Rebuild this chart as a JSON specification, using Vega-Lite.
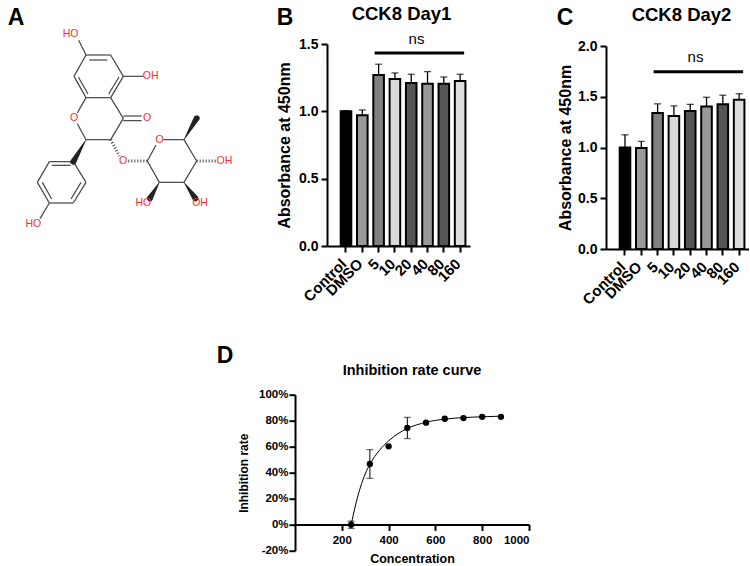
{
"$schema":"https://vega.github.io/schema/vega-lite/v6.json",
"background":"white",
"padding":{"left":0,"top":5,"right":0,"bottom":0},
"config":{"view":{"stroke":null},"font":"Liberation Sans",
 "axis":{"grid":false,"domainColor":"black","domainWidth":2,"tickColor":"black","tickWidth":2,"tickSize":6,"labelColor":"black","titleColor":"black","labelFont":"Liberation Sans","titleFont":"Liberation Sans","labelFontWeight":"bold","titleFontWeight":"bold","labelFontSize":14,"titleFontSize":16,"labelPadding":3},
 "title":{"font":"Liberation Sans","fontWeight":"bold","color":"black"}},
"bounds":"flush","spacing":350.7,
"vconcat":[
 {"bounds":"flush","spacing":136,"hconcat":[
  {"width":191,"height":202,
   "layer":[
    {"data":{"values":[
      {"x":258,"y":162,"x2":332,"y2":162},{"x":268,"y":177,"x2":322,"y2":177},{"x":332,"y":162,"x2":370,"y2":226},{"x":370,"y":226,"x2":332,"y2":290},{"x":357,"y":228,"x2":326,"y2":279},
      {"x":332,"y":290,"x2":258,"y2":290},{"x":258,"y":290,"x2":222,"y2":226},{"x":264,"y":279,"x2":235,"y2":228},{"x":222,"y":226,"x2":258,"y2":162},{"x":258,"y":162,"x2":236,"y2":118},
      {"x":370,"y":226,"x2":430,"y2":226},{"x":332,"y":290,"x2":370,"y2":352},{"x":370,"y":345,"x2":425,"y2":345},{"x":370,"y":359,"x2":425,"y2":359},{"x":258,"y":290,"x2":232,"y2":336},
      {"x":232,"y":368,"x2":258,"y2":416},{"x":258,"y":416,"x2":332,"y2":416},{"x":332,"y":416,"x2":370,"y2":352},
      {"x":220,"y":482,"x2":148,"y2":482},{"x":212,"y":493,"x2":156,"y2":493},{"x":148,"y":482,"x2":112,"y2":544},{"x":112,"y":544,"x2":148,"y2":606},{"x":127,"y":544,"x2":155,"y2":594},
      {"x":148,"y":606,"x2":220,"y2":606},{"x":220,"y":606,"x2":258,"y2":544},{"x":213,"y":594,"x2":243,"y2":544},{"x":258,"y":544,"x2":220,"y2":482},{"x":148,"y":606,"x2":120,"y2":653},
      {"x":442,"y":480,"x2":468,"y2":432},{"x":490,"y":416,"x2":552,"y2":416},{"x":552,"y":416,"x2":590,"y2":480},{"x":590,"y":480,"x2":552,"y2":544},{"x":552,"y":544,"x2":478,"y2":544},{"x":478,"y":544,"x2":442,"y2":480}
     ]},"mark":{"type":"rule","color":"#444444","strokeWidth":1.2},
     "encoding":{"x":{"field":"x","type":"quantitative","scale":{"domain":[0,573],"nice":false},"axis":null},"y":{"field":"y","type":"quantitative","scale":{"domain":[735,129],"nice":false},"axis":null},"x2":{"field":"x2"},"y2":{"field":"y2"}}},
    {"data":{"values":[
      {"x":332,"y":416,"x2":358,"y2":465},{"x":385,"y":480,"x2":442,"y2":480},{"x":590,"y":480,"x2":650,"y2":480}
     ]},"mark":{"type":"rule","color":"#444444","strokeWidth":3,"strokeDash":[1,2]},
     "encoding":{"x":{"field":"x","type":"quantitative"},"y":{"field":"y","type":"quantitative"},"x2":{"field":"x2"},"y2":{"field":"y2"}}},
    {"data":{"values":[
      {"b":1,"e":0,"x":258,"y":416},{"b":1,"e":1,"x":220,"y":482},
      {"b":2,"e":0,"x":552,"y":416},{"b":2,"e":1,"x":590,"y":352},
      {"b":3,"e":0,"x":552,"y":544},{"b":3,"e":1,"x":586,"y":592},
      {"b":4,"e":0,"x":478,"y":544},{"b":4,"e":1,"x":450,"y":592}
     ]},"mark":{"type":"trail","color":"#222222"},
     "encoding":{"x":{"field":"x","type":"quantitative"},"y":{"field":"y","type":"quantitative"},"detail":{"field":"b"},"size":{"field":"e","type":"quantitative","legend":null,"scale":{"domain":[0,1],"range":[0.5,6]}},"order":{"field":"e"}}},
    {"data":{"values":[
      {"x":212,"y":100,"t":"HO"},{"x":452,"y":226,"t":"OH"},{"x":441,"y":352,"t":"O"},{"x":222,"y":352,"t":"O"},{"x":100,"y":670,"t":"HO"},
      {"x":369,"y":480,"t":"O"},{"x":479,"y":416,"t":"O"},{"x":673,"y":480,"t":"OH"},{"x":600,"y":607,"t":"OH"},{"x":430,"y":607,"t":"HO"}
     ]},"mark":{"type":"text","color":"#f03030","fontSize":10.5,"baseline":"middle"},
     "encoding":{"x":{"field":"x","type":"quantitative"},"y":{"field":"y","type":"quantitative"},"text":{"field":"t"}}},
    {"data":{"values":[{"x":48,"y":72,"t":"A"},{"x":855,"y":72,"t":"B"},{"x":1695,"y":72,"t":"C"},{"x":675,"y":1086,"t":"D"}]},"mark":{"type":"text","fontSize":23,"fontWeight":"bold","color":"black","baseline":"alphabetic"},
     "encoding":{"x":{"field":"x","type":"quantitative"},"y":{"field":"y","type":"quantitative"},"text":{"field":"t"}}}
   ]},
  {"width":143,"height":202,"title":{"text":"CCK8 Day1","fontSize":18.5,"offset":8,"dx":3},
   "data":{"values":[
    {"group":"Control","mean":1.0,"upper":1.005},{"group":"DMSO","mean":0.97,"upper":1.01},{"group":"5","mean":1.27,"upper":1.35},{"group":"10","mean":1.24,"upper":1.285},
    {"group":"20","mean":1.21,"upper":1.275},{"group":"40","mean":1.205,"upper":1.295},{"group":"80","mean":1.205,"upper":1.255},{"group":"160","mean":1.225,"upper":1.275}]},
   "encoding":{"x":{"field":"group","type":"nominal","title":null,"scale":{"domain":["Control","DMSO","5","10","20","40","80","160"],"paddingInner":0.35,"paddingOuter":0.56,"align":0.75},"axis":{"labelAngle":-45,"labelAlign":"right","labelBaseline":"middle","labelPadding":9,"labelOffset":-2,"labelFontSize":15}}},
   "layer":[
    {"mark":{"type":"rule","color":"black","strokeWidth":1.3},"encoding":{"y":{"field":"mean","type":"quantitative"},"y2":{"field":"upper"}}},
    {"mark":{"type":"tick","color":"black","thickness":1.3,"size":7},"encoding":{"y":{"field":"upper","type":"quantitative"}}},
    {"mark":{"type":"bar","stroke":"black","strokeWidth":2},
     "encoding":{"y":{"field":"mean","type":"quantitative","scale":{"domain":[0,1.5],"nice":false},"title":"Absorbance at 450nm","axis":{"values":[0,0.5,1,1.5],"format":".1f","titlePadding":6}},
      "color":{"field":"group","type":"nominal","legend":null,"scale":{"domain":["Control","DMSO","5","10","20","40","80","160"],"range":["#000000","#999999","#808080","#d9d9d9","#555555","#999999","#555555","#dddddd"]}}}},
    {"data":{"values":[{"group":"5","to":"160","y":1.433}]},"mark":{"type":"rule","color":"black","strokeWidth":3,"xOffset":-4,"x2Offset":4},
     "encoding":{"x2":{"field":"to"},"y":{"field":"y","type":"quantitative"}}},
    {"data":{"values":[{"group":"20","y":1.54,"t":"ns"}]},"mark":{"type":"text","fontSize":15,"color":"black","baseline":"middle"},
     "encoding":{"x":{"field":"group","type":"nominal","bandPosition":1},"y":{"field":"y","type":"quantitative"},"text":{"field":"t"}}}
   ]},
  {"bounds":"flush","spacing":0,"vconcat":[
   {"width":143,"height":2,"data":{"values":[]},"mark":"text","encoding":{}},
   {"width":143,"height":203,"title":{"text":"CCK8 Day2","fontSize":18.5,"offset":15,"dx":4},
   "data":{"values":[
    {"group":"Control","mean":1.0,"upper":1.125},{"group":"DMSO","mean":0.995,"upper":1.06},{"group":"5","mean":1.34,"upper":1.43},{"group":"10","mean":1.31,"upper":1.41},
    {"group":"20","mean":1.36,"upper":1.425},{"group":"40","mean":1.405,"upper":1.495},{"group":"80","mean":1.425,"upper":1.515},{"group":"160","mean":1.47,"upper":1.53}]},
   "encoding":{"x":{"field":"group","type":"nominal","title":null,"scale":{"domain":["Control","DMSO","5","10","20","40","80","160"],"paddingInner":0.35,"paddingOuter":0.56,"align":0.75},"axis":{"labelAngle":-45,"labelAlign":"right","labelBaseline":"middle","labelPadding":9,"labelOffset":-2,"labelFontSize":15}}},
   "layer":[
    {"mark":{"type":"rule","color":"black","strokeWidth":1.3},"encoding":{"y":{"field":"mean","type":"quantitative"},"y2":{"field":"upper"}}},
    {"mark":{"type":"tick","color":"black","thickness":1.3,"size":7},"encoding":{"y":{"field":"upper","type":"quantitative"}}},
    {"mark":{"type":"bar","stroke":"black","strokeWidth":2},
     "encoding":{"y":{"field":"mean","type":"quantitative","scale":{"domain":[0,2],"nice":false},"title":"Absorbance at 450nm","axis":{"values":[0,0.5,1,1.5,2],"format":".1f","titlePadding":4}},
      "color":{"field":"group","type":"nominal","legend":null,"scale":{"domain":["Control","DMSO","5","10","20","40","80","160"],"range":["#000000","#999999","#808080","#d9d9d9","#555555","#999999","#555555","#dddddd"]}}}},
    {"data":{"values":[{"group":"5","to":"160","y":1.747}]},"mark":{"type":"rule","color":"black","strokeWidth":3,"xOffset":-4,"x2Offset":4},
     "encoding":{"x2":{"field":"to"},"y":{"field":"y","type":"quantitative"}}},
    {"data":{"values":[{"group":"20","y":1.89,"t":"ns"}]},"mark":{"type":"text","fontSize":15,"color":"black","baseline":"middle"},
     "encoding":{"x":{"field":"group","type":"nominal","bandPosition":1},"y":{"field":"y","type":"quantitative"},"text":{"field":"t"}}}
   ]}
  ]}
 ]},
 {"bounds":"flush","spacing":0,"hconcat":[
  {"width":294.5,"height":10,"data":{"values":[]},"mark":"text","encoding":{}},
  {"width":234,"height":156,"title":{"text":"Inhibition rate curve","fontSize":14.5,"offset":10},
   "layer":[
    {"data":{"values":[
      {"c":240,"r":0},{"c":260,"r":16},{"c":280,"r":29},{"c":300,"r":39},{"c":320,"r":46.5},{"c":360,"r":57},{"c":400,"r":64.5},{"c":440,"r":70},{"c":480,"r":74},{"c":560,"r":78.8},{"c":640,"r":81.2},{"c":720,"r":82.4},{"c":800,"r":83},{"c":880,"r":83.5}
     ]},"mark":{"type":"line","color":"black","strokeWidth":1,"interpolate":"monotone"},
     "encoding":{"x":{"field":"c","type":"quantitative","scale":{"domain":[0,1000],"nice":false},"title":"Concentration","axis":{"values":[200,400,600,800,1000],"labelExpr":"datum.value","offset":-26.3,"labelFontSize":11.5,"titleFontSize":12.5,"titlePadding":7,"labelPadding":4,"labelOverlap":false,"tickCount":5}},
      "y":{"field":"r","type":"quantitative","scale":{"domain":[-20,100],"nice":false},"title":"Inhibition rate","axis":{"values":[-20,0,20,40,60,80,100],"tickCount":7,"labelExpr":"datum.value + '%'","labelFontSize":11.5,"titleFontSize":12,"titlePadding":8,"labelPadding":1,"labelOverlap":false}}}},
    {"data":{"values":[
      {"c":240,"low":-2.8,"high":2.8},{"c":320,"low":35.7,"high":57.7},{"c":480,"low":66.2,"high":82.6}
     ]},"mark":{"type":"errorbar","ticks":{"size":7,"color":"black"},"rule":{"color":"black"},"thickness":1},
     "encoding":{"x":{"field":"c","type":"quantitative"},"y":{"field":"low","type":"quantitative","title":"Inhibition rate"},"y2":{"field":"high"}}},
    {"data":{"values":[
      {"c":240,"r":0},{"c":320,"r":46.7},{"c":400,"r":60.3},{"c":480,"r":74.4},{"c":560,"r":78.5},{"c":640,"r":81.5},{"c":720,"r":82},{"c":800,"r":83},{"c":880,"r":83}
     ]},"mark":{"type":"point","filled":true,"color":"black","size":40,"opacity":1},
     "encoding":{"x":{"field":"c","type":"quantitative"},"y":{"field":"r","type":"quantitative"}}}
   ]}
 ]}
]}
